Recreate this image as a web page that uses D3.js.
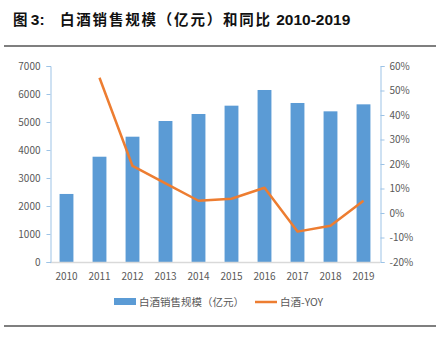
<!DOCTYPE html>
<html>
<head>
<meta charset="utf-8">
<script src="https://cdn.jsdelivr.net/npm/d3@7"></script>
<style>
  body { margin: 0; background: #fff; }
  text { font-family: "Noto Sans CJK SC", "Liberation Sans", sans-serif; }
</style>
</head>
<body>
<div class="view"></div>
<script>
var years = ["2010", "2011", "2012", "2013", "2014", "2015", "2016", "2017", "2018", "2019"];
var sales = [2430, 3760, 4475, 5036, 5286, 5583, 6143, 5679, 5381, 5631];
var yoy = [null, 55.2, 19.2, 12.1, 5.0, 5.8, 10.3, -7.6, -5.2, 5.0];
var leftTicks = [0, 1000, 2000, 3000, 4000, 5000, 6000, 7000];
var rightTicks = [-20, -10, 0, 10, 20, 30, 40, 50, 60];

var width = 436;
var height = 344;
var margin = { top: 66, right: 56, bottom: 82, left: 50 };

var svg = d3.select(".view")
    .append("svg")
    .attr("width", width)
    .attr("height", height);

// title: chinese in CJK font, numbers in a latin bold face
var latin = "\"Liberation Sans\", Arial, sans-serif";
var title = svg.append("text")
    .attr("y", 25)
    .attr("font-size", 14.5)
    .attr("font-weight", "bold")
    .attr("fill", "#111");
title.append("tspan").attr("x", 13).text("图 ");
title.append("tspan").attr("font-family", latin).attr("font-size", 15.5).text("3:");
title.append("tspan").attr("x", 60).attr("letter-spacing", 1.8)
    .text("白酒销售规模（亿元）和同比");
title.append("tspan").attr("font-family", latin).attr("font-size", 15.5)
    .text(" 2010-2019");

svg.append("line")
    .attr("x1", 4).attr("x2", 436)
    .attr("y1", 46).attr("y2", 46)
    .attr("stroke", "#555").attr("stroke-width", 1.5);

svg.append("line")
    .attr("x1", 4).attr("x2", 436)
    .attr("y1", 326).attr("y2", 326)
    .attr("stroke", "#555").attr("stroke-width", 1.5);

var x = d3.scaleBand()
    .domain(years)
    .range([margin.left, width - margin.right])
    .paddingInner(0.58)
    .paddingOuter(0.29);

var y = d3.scaleLinear()
    .domain([0, 7000])
    .range([height - margin.bottom, margin.top]);

var y2 = d3.scaleLinear()
    .domain([-20, 60])
    .range([height - margin.bottom, margin.top]);

// bars
svg.append("g")
    .selectAll("rect")
    .data(sales)
    .enter().append("rect")
    .attr("x", function (d, i) { return x(years[i]); })
    .attr("width", x.bandwidth())
    .attr("y", function (d) { return y(d); })
    .attr("height", function (d) { return y(0) - y(d); })
    .attr("fill", "#5B9BD5");

// x axis baseline
svg.append("line")
    .attr("x1", margin.left).attr("x2", width - margin.right)
    .attr("y1", y(0) + 0.5).attr("y2", y(0) + 0.5)
    .attr("stroke", "#D9D9D9").attr("stroke-width", 1.5);

svg.append("g")
    .selectAll("text")
    .data(years)
    .enter().append("text")
    .attr("x", function (d) { return x(d) + x.bandwidth() / 2; })
    .attr("y", y(0) + 18)
    .attr("text-anchor", "middle")
    .attr("font-size", 10)
    .attr("fill", "#595959")
    .text(function (d) { return d; });

// left axis
var gl = svg.append("g")
    .attr("transform", "translate(" + (margin.left + 0.5) + ",0)")
    .call(d3.axisLeft(y).tickValues(leftTicks).tickSize(4).tickPadding(6)
        .tickFormat(d3.format("d")));
gl.select(".domain").attr("stroke", "#9DC3E6");
gl.selectAll(".tick line").attr("stroke", "#9DC3E6");
gl.selectAll(".tick text").attr("fill", "#595959").attr("font-size", 10)
    .attr("font-family", "\"Noto Sans CJK SC\", sans-serif");

// right axis
var gr = svg.append("g")
    .attr("transform", "translate(" + (width - margin.right + 0.5) + ",0)")
    .call(d3.axisRight(y2).tickValues(rightTicks).tickSize(4).tickPadding(5)
        .tickFormat(function (d) { return d + "%"; }));
gr.select(".domain").attr("stroke", "#9DC3E6");
gr.selectAll(".tick line").attr("stroke", "#9DC3E6");
gr.selectAll(".tick text").attr("fill", "#595959").attr("font-size", 10)
    .attr("font-family", "\"Noto Sans CJK SC\", sans-serif");

// yoy line
var line = d3.line()
    .defined(function (d) { return d != null; })
    .x(function (d, i) { return x(years[i]) + x.bandwidth() / 2; })
    .y(function (d) { return y2(d); });

svg.append("path")
    .datum(yoy)
    .attr("fill", "none")
    .attr("stroke", "#ED7D31")
    .attr("stroke-width", 2.5)
    .attr("stroke-linejoin", "round")
    .attr("d", line);

// legend
var lg = svg.append("g").attr("transform", "translate(0,302)");
lg.append("rect")
    .attr("x", 114).attr("y", -4)
    .attr("width", 22).attr("height", 7)
    .attr("fill", "#5B9BD5");
lg.append("text")
    .attr("x", 139).attr("y", 4)
    .attr("font-size", 10.5)
    .attr("fill", "#595959")
    .text("白酒销售规模（亿元）");
lg.append("line")
    .attr("x1", 255).attr("x2", 277)
    .attr("y1", 0).attr("y2", 0)
    .attr("stroke", "#ED7D31").attr("stroke-width", 2.5);
lg.append("text")
    .attr("x", 280).attr("y", 4)
    .attr("font-size", 10.5)
    .attr("fill", "#595959")
    .text("白酒-YOY");
</script>
</body>
</html>
